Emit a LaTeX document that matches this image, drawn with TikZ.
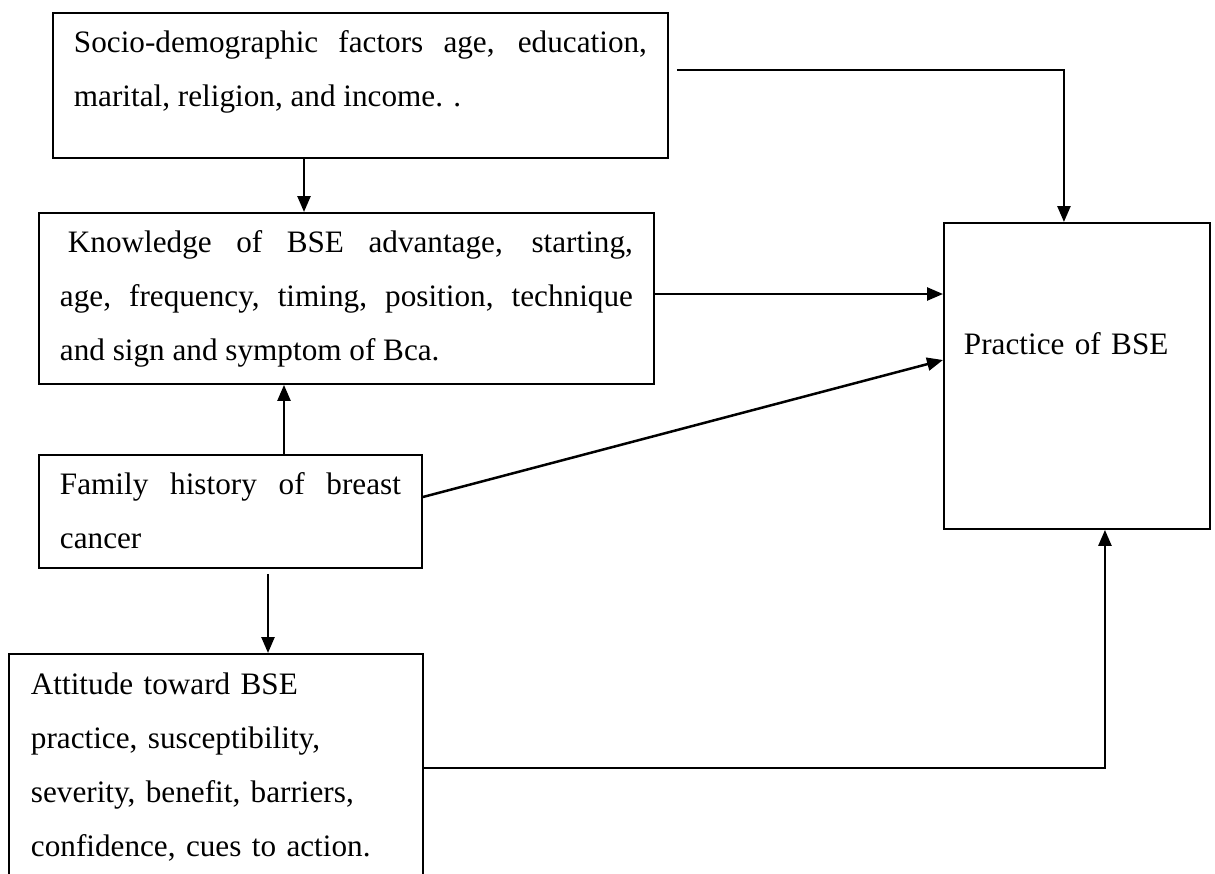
\documentclass[tikz,border=0pt]{standalone}
\usepackage{fontspec}
\setmainfont{Liberation Serif}
\usepackage{tikz}
\usetikzlibrary{arrows.meta}
\newcommand\boxfont{\fontsize{31.2}{54}\selectfont\tolerance=9999}

\tikzset{
  box/.style={draw, line width=1.9pt, anchor=north west, inner xsep=21pt, inner ysep=0pt,
    align=justify, font=\boxfont, text height=40pt},
  conn/.style={line width=2.5pt, -{Triangle[length=16pt,width=13pt]}}
}

\begin{document}
\begin{tikzpicture}[x=1pt,y=-1pt]
   \path[use as bounding box] (0,0) rectangle (1215,873);
   \clip (0,0) rectangle (1215,873);
   \node [box, text width=573pt, text depth=105pt] (socio) at (52,12)
      {Socio-demographic factors age, education,\linebreak marital, religion, and income. .};
   \node [box, text width=573pt, text depth=131pt] (know) at (38,212)
      {\hspace*{8pt}Knowledge of BSE advantage, starting,\linebreak age, frequency, timing, position, technique\linebreak and sign and symptom of Bca.};
   \node [box, text width=341pt, text depth=73pt] (fam) at (38,454)
      {Family history of breast\linebreak cancer};
   \node [box, align=left, inner xsep=22pt, text width=370pt, text height=41pt, text depth=230pt] (att) at (8,653)
      {Attitude toward BSE\\ practice, susceptibility,\\ severity, benefit, barriers,\\ confidence, cues to action.};
   \node [box, align=left, inner xsep=20pt, text width=226pt, text height=132pt, text depth=174pt] (prac) at (943,222)
      {Practice of BSE};
   %% connectors
   \coordinate (s1) at ([xshift=252pt]socio.south west);
   \coordinate (s2) at ([xshift=246pt]fam.north west);
   \coordinate (s3) at ([xshift=230pt,yshift=-5pt]fam.south west);
   \coordinate (k1) at ([yshift=-82pt]know.north east);
   \draw [conn] (s1) -- (s1 |- know.north);
   \draw [conn] ([xshift=8pt,yshift=-58pt]socio.north east) -| ([xshift=-13pt]prac.north);
   \draw [conn] (k1) -- (k1 -| prac.west);
   \draw [conn] (s2) -- (s2 |- know.south);
   \draw [conn] ([yshift=-43pt]fam.north east) -- ([yshift=-138pt]prac.north west);
   \draw [conn] (s3) -- (s3 |- att.north);
   \draw [conn] ([yshift=-115pt]att.north east) -| ([xshift=28pt]prac.south);
\end{tikzpicture}
\end{document}
